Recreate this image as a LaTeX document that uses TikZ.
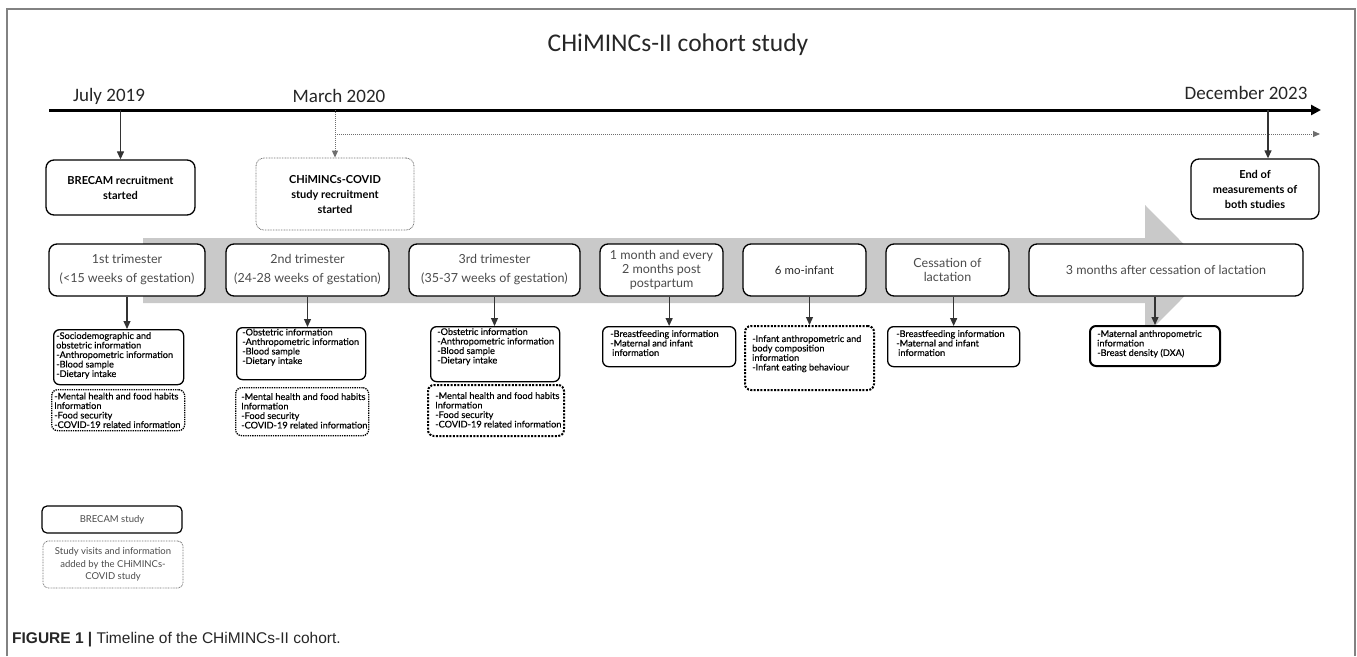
\documentclass[tikz,border=0pt]{standalone}
\usepackage{fontspec}
\setmainfont{Lato}
\newfontfamily\calfont{Carlito}
\newfontfamily\capfont{Liberation Sans}
\newfontfamily\infofont{Lato}[FakeBold=0.3]
\usetikzlibrary{arrows.meta,calc}
\definecolor{framegray}{RGB}{130,130,130}
\definecolor{bandgray}{RGB}{201,201,201}
\definecolor{txtgray}{RGB}{75,75,75}
\definecolor{dotgray}{RGB}{110,110,110}
\newcommand{\infobox}[9]{%
  \node[#2, minimum width=#5pt, minimum height=#6pt] (#1) at (#3,#4) {};
  \node[itext] (#1t) at ($(#1.north west)+(#7,#8)$) {#9};}
\begin{document}
\begin{tikzpicture}[x=1pt,y=-1pt,
  phase/.style={draw, line width=1.3pt, rounded corners=8pt, minimum height=52pt, inner sep=0pt, align=center, fill=white, text=txtgray, font=\fontsize{12.5}{14}\selectfont},
  info/.style={draw, line width=1.3pt, rounded corners=6pt, inner sep=0pt, anchor=north west, fill=white},
  infothick/.style={info, line width=2pt},
  dotbox/.style={info, dash pattern=on 1.3pt off 1pt},
  dotthick/.style={info, line width=2pt, dash pattern=on 2pt off 1.4pt},
  itext/.style={anchor=north west, inner sep=0pt, align=left, font=\infofont\fontsize{9.2}{9.5}\selectfont, text=black},
  topbox/.style={draw, line width=1.3pt, rounded corners=8pt, inner sep=0pt, align=center, font=\bfseries\fontsize{11}{15}\selectfont},
  topdot/.style={topbox, draw=dotgray, line width=0.8pt, dash pattern=on 0.8pt off 0.8pt},
  legbox/.style={draw, line width=1.2pt, rounded corners=5pt, inner sep=0pt, align=center, text=txtgray, font=\fontsize{9.5}{12.5}\selectfont},
  legdot/.style={legbox, draw=dotgray, line width=0.8pt, dash pattern=on 0.8pt off 0.8pt},
  datefont/.style={font=\calfont\fontsize{19}{22}\selectfont, text=black!85},
  arr/.style={line width=1.2pt, draw=black!80, -{Triangle[length=8pt,width=7pt]}},
  dotarr/.style={line width=1pt, draw=dotgray, dash pattern=on 1pt off 1pt, -{Triangle[length=7pt,width=6pt]}}
]
\useasboundingbox (0,0) rectangle (1357,656);
% frame
\draw[framegray, line width=2pt] (7,656) -- (7,9) -- (1355,9) -- (1355,656);
% title
\node[font=\calfont\fontsize{25.5}{28}\selectfont, text=black!85] (title) at (678,45) {CHiMINCs-II cohort study};
% timeline
\coordinate (t0) at (49,110);
\coordinate (t1) at (1321,110);
\draw[line width=3pt, -{Triangle[length=10pt,width=10pt]}] (t0) -- (t1);
\node[datefont] (jul) at (109,96) {July 2019};
\node[datefont] (mar) at (339,96) {March 2020};
\node[datefont] (decl) at (1246,93) {December 2023};
% top boxes
\node[topbox, minimum width=149pt, minimum height=55pt] (b1) at (120.5,187.5) {BRECAM recruitment\\started};
\node[topdot, minimum width=158pt, minimum height=72pt] (c1) at (335,194) {CHiMINCs-COVID\\study recruitment\\started};
\node[topbox, minimum width=128pt, minimum height=60pt] (e1) at (1255,189) {End of\\measurements of\\both studies};
\draw[arr] (t0 -| b1.north) -- (b1.north);
\draw[dotarr] (t0 -| c1.north) -- (c1.north);
\coordinate (dh) at (1320,134);
\draw[dotarr] (c1.north |- dh) -- (dh);
\coordinate (dec) at (1268,110);
\draw[arr] (dec) -- (dec |- e1.north);
% gray band arrow
\fill[bandgray] (143,238) -- (1145,238) -- (1145,205) -- (1210,270.5) -- (1145,336) -- (1145,303) -- (143,303) -- cycle;
% phase boxes
\node[phase, minimum width=156pt] (p1) at (127,270) {1st trimester\\[5pt](<15 weeks of gestation)};
\node[phase, minimum width=163pt] (p2) at (307.5,270) {2nd trimester\\[5pt](24-28 weeks of gestation)};
\node[phase, minimum width=171pt] (p3) at (494.5,270) {3rd trimester\\[5pt](35-37 weeks of gestation)};
\node[phase, minimum width=123pt] (p4) at (661.5,270) {1 month and every\\2 months post\\postpartum};
\node[phase, minimum width=123pt, text=black!85, font=\fontsize{11.5}{14}\selectfont] (p5) at (804.5,270) {6 mo-infant};
\node[phase, minimum width=123pt] (p6) at (947.5,270) {Cessation of\\lactation};
\node[phase, minimum width=274pt] (p7) at (1166,270) {3 months after cessation of lactation};
% info boxes
\infobox{i1}{info}{53}{329}{130}{55}{3}{3}{-Sociodemographic and\\obstetric information\\-Anthropometric information\\-Blood sample\\-Dietary intake}
\infobox{d1}{dotbox}{51}{389}{133}{41}{3}{3.5}{-Mental health and food habits\\Information\\-Food security\\-COVID-19 related information}
\infobox{i2}{info}{236}{327}{129}{52}{6}{1.5}{-Obstetric information\\-Anthropometric information\\-Blood sample\\-Dietary intake}
\infobox{d2}{dotbox}{235}{387}{133}{48}{6}{6}{-Mental health and food habits\\Information\\-Food security\\-COVID-19 related information}
\infobox{i3}{info}{430}{326}{129}{55}{7}{2}{-Obstetric information\\-Anthropometric information\\-Blood sample\\-Dietary intake}
\infobox{d3}{dotthick}{427}{384}{136}{51}{8}{8}{-Mental health and food habits\\Information\\-Food security\\-COVID-19 related information}
\infobox{i4}{info}{602}{326}{133}{40}{8}{4}{-Breastfeeding information\\-Maternal and infant\\\hspace{2pt}information}
\infobox{i5}{dotthick}{744}{325}{129}{64}{8}{10}{-Infant anthropometric and\\body composition\\information\\-Infant eating behaviour}
\infobox{i6}{info}{887}{326}{132}{40}{9}{4}{-Breastfeeding information\\-Maternal and infant\\\hspace{2pt}information}
\infobox{i7}{infothick}{1089}{325}{130}{40}{8}{5}{-Maternal anthropometric\\information\\-Breast density (DXA)}
% connectors phase -> info
\draw[arr] (p1.south) -- (p1.south |- i1.north);
\draw[arr] (p2.south) -- (p2.south |- i2.north);
\draw[arr] (p3.south) -- (p3.south |- i3.north);
\draw[arr] (i4.north |- p4.south) -- (i4.north);
\draw[arr] (i5.north |- p5.south) -- (i5.north);
\draw[arr] (i6.north |- p6.south) -- (i6.north);
\draw[arr] (i7.north |- p7.south) -- (i7.north);
% legend
\node[legbox, minimum width=140pt, minimum height=27pt] (l1) at (112,519.5) {BRECAM study};
\node[legdot, minimum width=140pt, minimum height=47pt] (l2) at (113,564.5) {Study visits and information\\added by the CHiMINCs-\\COVID study};
% caption
\node[anchor=west, inner sep=0pt, font=\capfont\fontsize{15.5}{17}\selectfont, text=black!85] (cap) at (12,640) {\textbf{FIGURE 1 |} Timeline of the CHiMINCs-II cohort.};
\end{tikzpicture}
\end{document}
